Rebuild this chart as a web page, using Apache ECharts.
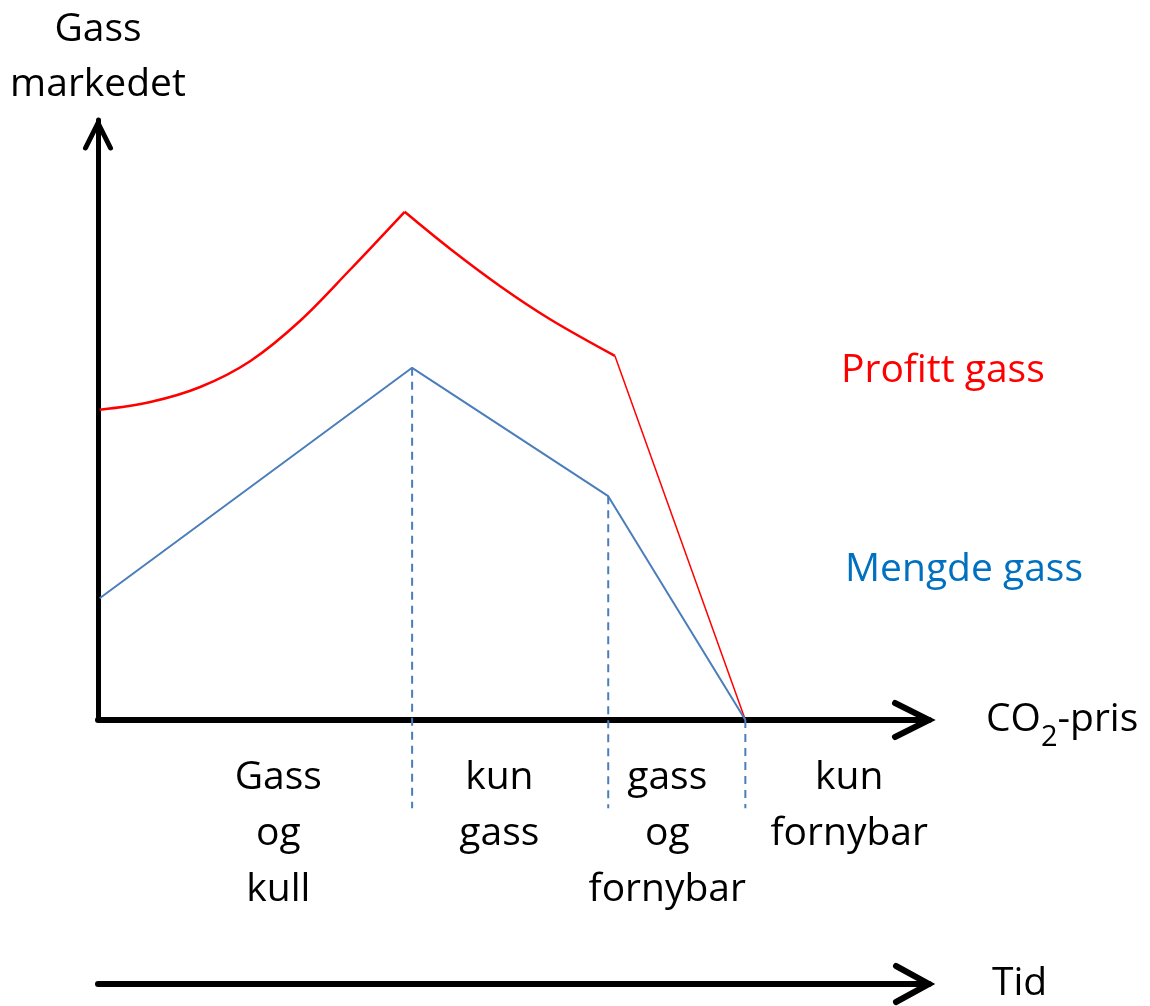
<!DOCTYPE html>
<html>
<head>
<meta charset="utf-8">
<script src="https://cdn.jsdelivr.net/npm/echarts@6/dist/echarts.min.js"></script>
<style>
  html, body { margin: 0; padding: 0; background: #fff; }
  #chart { width: 1150px; height: 1006px; }
</style>
</head>
<body>
<div id="chart"></div>
<script>
// CO2-pris (x) og profitt / mengde (y), skjematisk 0-100
const co2Profit = [0.2, 6.3, 12.3, 18.3, 24.3, 30.3, 36.9, 42.4, 48.4, 54.4, 62.2, 77.9];
const profit    = [51.7, 53.0, 55.5, 59.8, 66.5, 75.0, 84.7, 78.5, 72.3, 66.8, 60.7, 0];
const co2Volume = [0.2, 37.8, 61.4, 77.9];
const volume    = [20.3, 58.7, 37.3, 0];
const dividerBottom = -14.7;
const regionNames = ['Gass\nog\nkull', 'kun\ngass', 'gass\nog\nfornybar', 'kun\nfornybar'];
const regionX = [21.7, 48.3, 68.5, 90.4];

const FONT = '"Open Sans", "Noto Sans", sans-serif';
const RED = '#ff0000';
const BLUE = '#4a7ebb';

const pts = (xs, ys) => xs.map((x, i) => [x, ys[i]]);
const profitPts = pts(co2Profit, profit);
const volumePts = pts(co2Volume, volume);

function arrow(len, half, width) {
  return function (params, api) {
    const tip = api.coord([api.value(0), api.value(1)]);
    const ang = api.value(2) * Math.PI / 180;
    const dx = Math.cos(ang), dy = -Math.sin(ang);
    const bx = tip[0] - dx * len, by = tip[1] - dy * len;
    const nx = -dy, ny = dx;
    return {
      type: 'polyline',
      shape: { points: [[bx + nx * half, by + ny * half], tip, [bx - nx * half, by - ny * half]] },
      style: { stroke: '#000', lineWidth: width, fill: null, lineCap: 'round', lineJoin: 'miter' }
    };
  };
}

let myChart = echarts.init(document.getElementById('chart'));
myChart.setOption({
  animation: false,
  textStyle: { fontFamily: FONT },
  grid: [
    { left: 98, top: 120, width: 831, height: 600 },
    { left: 98, top: 900, width: 831, height: 84 }
  ],
  xAxis: [
    {
      type: 'value', min: 0, max: 100, gridIndex: 0,
      axisLine: { lineStyle: { color: '#000', width: 6 } },
      axisTick: { show: false }, axisLabel: { show: false }, splitLine: { show: false },
      name: '{n|CO}{s|2}{n|-pris}', nameLocation: 'end', nameGap: 57,
      nameTextStyle: {
        rich: {
          n: { fontFamily: FONT, fontSize: 39, color: '#000', lineHeight: 64 },
          s: { fontFamily: FONT, fontSize: 29, color: '#000', lineHeight: 29, verticalAlign: 'bottom' }
        }
      }
    },
    {
      type: 'value', min: 0, max: 100, gridIndex: 1,
      axisLine: { lineStyle: { color: '#000', width: 6 } },
      axisTick: { show: false }, axisLabel: { show: false }, splitLine: { show: false },
      name: 'Tid', nameLocation: 'end', nameGap: 63,
      nameTextStyle: { fontFamily: FONT, fontSize: 39, color: '#000', padding: [8, 0, 0, 0] }
    }
  ],
  yAxis: [
    {
      type: 'value', min: 0, max: 100, gridIndex: 0,
      axisLine: { show: true, lineStyle: { color: '#000', width: 5 } },
      axisTick: { show: false }, axisLabel: { show: false }, splitLine: { show: false },
      name: 'Gass\nmarkedet', nameLocation: 'end', nameGap: 8,
      nameTextStyle: { fontFamily: FONT, fontSize: 39, color: '#000', lineHeight: 55, align: 'center' }
    },
    {
      type: 'value', min: 0, max: 1, gridIndex: 1, show: false
    }
  ],
  graphic: [
    { type: 'text', left: 841, top: 351, style: { text: 'Profitt gass', fill: RED, font: '39px ' + FONT } },
    { type: 'text', left: 845, top: 550, style: { text: 'Mengde gass', fill: '#0070c0', font: '39px ' + FONT } }
  ],
  series: [
    {
      name: 'Profitt gass', type: 'line', smooth: 0.35, showSymbol: false,
      data: profitPts.slice(0, 7),
      lineStyle: { color: RED, width: 2.5 }
    },
    {
      name: 'Profitt gass', type: 'line', smooth: 0.35, showSymbol: false,
      data: profitPts.slice(6, 11),
      lineStyle: { color: RED, width: 2.5 }
    },
    {
      name: 'Profitt gass', type: 'line', showSymbol: false,
      data: profitPts.slice(10),
      lineStyle: { color: RED, width: 1.5 }
    },
    {
      name: 'Mengde gass', type: 'line', showSymbol: false,
      data: volumePts,
      lineStyle: { color: BLUE, width: 2 }
    },
    ...volumePts.slice(1).map(p => ({
      type: 'line', showSymbol: false, clip: false, z: 1,
      data: [p, [p[0], dividerBottom]],
      lineStyle: { color: BLUE, width: 2, type: [8, 6] }
    })),
    {
      type: 'scatter', symbolSize: 0, clip: false,
      itemStyle: { opacity: 1 },
      data: regionX.map((x, i) => ({ value: [x, 0], name: regionNames[i] })),
      label: {
        show: true, position: 'bottom', distance: 30, opacity: 1,
        formatter: p => p.name,
        fontFamily: FONT, fontSize: 39, lineHeight: 56, color: '#000', align: 'center'
      }
    },
    {
      type: 'custom', clip: false, z: 5,
      renderItem: arrow(34, 17, 6),
      data: [[100, 0, 0]]
    },
    {
      type: 'custom', clip: false, z: 5,
      renderItem: arrow(25, 12.5, 5),
      data: [[0, 99.5, 90]]
    },
    {
      type: 'custom', clip: false, z: 5, xAxisIndex: 1, yAxisIndex: 1,
      renderItem: arrow(33, 18, 6),
      data: [[100, 0, 0]]
    }
  ]
});
</script>
</body>
</html>
